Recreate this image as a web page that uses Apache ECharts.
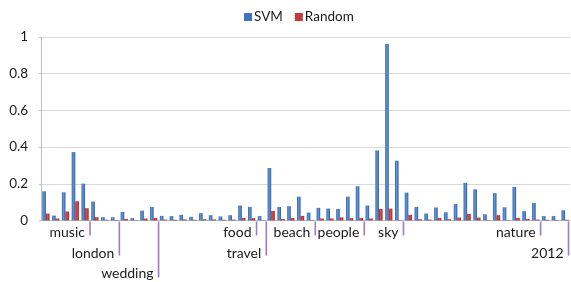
<!DOCTYPE html>
<html>
<head>
<meta charset="utf-8">
<script src="https://cdn.jsdelivr.net/npm/echarts@6/dist/echarts.min.js"></script>
<style>html,body{margin:0;padding:0;background:#fff}#c{width:571px;height:282px}</style>
</head>
<body>
<div id="c"></div>
<script>
var categories = [];
for (var i = 1; i <= 54; i++) categories.push('c' + i);

var svm = [0.159,0.027,0.154,0.373,0.201,0.103,0.018,0.018,0.047,0.013,
           0.054,0.074,0.025,0.024,0.031,0.020,0.040,0.029,0.022,0.029,
           0.082,0.074,0.024,0.286,0.074,0.078,0.130,0.043,0.069,0.065,
           0.063,0.130,0.187,0.082,0.382,0.962,0.326,0.152,0.074,0.038,
           0.071,0.045,0.090,0.205,0.170,0.034,0.149,0.072,0.183,0.051,
           0.096,0.024,0.024,0.056];
var random = [0.038,0.011,0.049,0.105,0.067,0.018,0.004,0.003,0.009,0.002,
              0.011,0.014,0.005,0.004,0.006,0.004,0.007,0.006,0.004,0.005,
              0.014,0.013,0.002,0.052,0.008,0.014,0.025,0.003,0.011,0.011,
              0.017,0.013,0.014,0.011,0.063,0.065,0.002,0.031,0.007,0.005,
              0.014,0.007,0.016,0.036,0.016,0.002,0.029,0.002,0.014,0.008,
              0.005,0.004,0.002,0.004];

var yTicks = [0, 0.2, 0.4, 0.6, 0.8, 1];

// group labels: name, boundary (index of category after which the marker line is drawn), level
var groupNames = ['music','london','wedding','food','travel','beach','people','sky','nature','2012'];
var groupBoundary = [5, 8, 12, 22, 23, 28, 33, 37, 51, 54];
var groupLevel = [1, 2, 3, 1, 2, 1, 1, 1, 1, 2];

var groupData = groupNames.map(function (n, i) { return [groupBoundary[i] - 1, 0, groupLevel[i], i]; });

var blueGrad = new echarts.graphic.LinearGradient(0, 0, 1, 0, [
  {offset: 0, color: '#2f62a8'}, {offset: 0.45, color: '#6497d9'}, {offset: 1, color: '#2c5a9c'}]);
var redGrad = new echarts.graphic.LinearGradient(0, 0, 1, 0, [
  {offset: 0, color: '#a52526'}, {offset: 0.45, color: '#de4f4c'}, {offset: 1, color: '#9a2222'}]);

var levelLen = {1: 15, 2: 35, 3: 57};
var levelTextY = {1: 12, 2: 33, 3: 53};

var chart = echarts.init(document.getElementById('c'), null, {renderer: 'canvas'});
chart.setOption({
  animation: false,
  textStyle: {fontFamily: 'Lato'},
  legend: {
    data: [{name: 'SVM', itemStyle: {color: '#3f72bd'}}, {name: 'Random', itemStyle: {color: '#c43a37'}}],
    left: 239, top: 5,
    itemWidth: 8, itemHeight: 8, itemGap: 12,
    icon: 'rect',
    textStyle: {fontFamily: 'Lato', fontSize: 13.5, color: '#1a1a1a', padding: [0, 0, 0, -3]}
  },
  grid: {left: 41, right: 1, top: 37, bottom: 61.5, containLabel: false},
  xAxis: {
    type: 'category', data: categories,
    axisLine: {show: true, lineStyle: {color: '#bfbfbf', width: 1}},
    axisTick: {show: false},
    axisLabel: {show: false},
    splitLine: {show: false}
  },
  yAxis: {
    type: 'value', min: 0, max: 1, interval: 0.2,
    axisLine: {show: true, lineStyle: {color: '#bfbfbf'}},
    axisTick: {show: true, length: 2, lineStyle: {color: '#bfbfbf'}},
    axisLabel: {fontFamily: 'Lato', fontSize: 13.5, color: '#1a1a1a', margin: 13,
      formatter: function (v) { var r = yTicks.filter(function (t) { return Math.abs(t - v) < 1e-9; }); return r.length ? String(+v.toFixed(1)) : ''; }},
    splitLine: {lineStyle: {color: '#d9d9d9', width: 1}}
  },
  series: [
    {name: 'SVM', type: 'bar', data: svm, barWidth: 3.6, barGap: '0%',
     itemStyle: {color: blueGrad}},
    {name: 'Random', type: 'bar', data: random, barWidth: 3.6, barGap: '0%',
     itemStyle: {color: redGrad}},
    {type: 'custom', data: groupData, clip: false, silent: true, z: 10,
     renderItem: function (params, api) {
       var idx = api.value(0);
       var lvl = api.value(2);
       var name = groupNames[api.value(3)];
       var p = api.coord([idx, 0]);
       var bw = api.size([1, 0])[0];
       var x = Math.min(p[0] + bw / 2, params.coordSys.x + params.coordSys.width - 1.5);
       var y0 = p[1];
       return {
         type: 'group',
         children: [
           {type: 'line', shape: {x1: x, y1: y0 + 1, x2: x, y2: y0 + levelLen[lvl]},
            style: {stroke: '#9a7cc4', lineWidth: 1.6}},
           {type: 'text', style: {text: name, x: x - 5, y: y0 + levelTextY[lvl],
            align: 'right', verticalAlign: 'middle', fill: '#1a1a1a', font: '14px Lato'}}
         ]
       };
     }}
  ]
});
</script>
</body>
</html>
